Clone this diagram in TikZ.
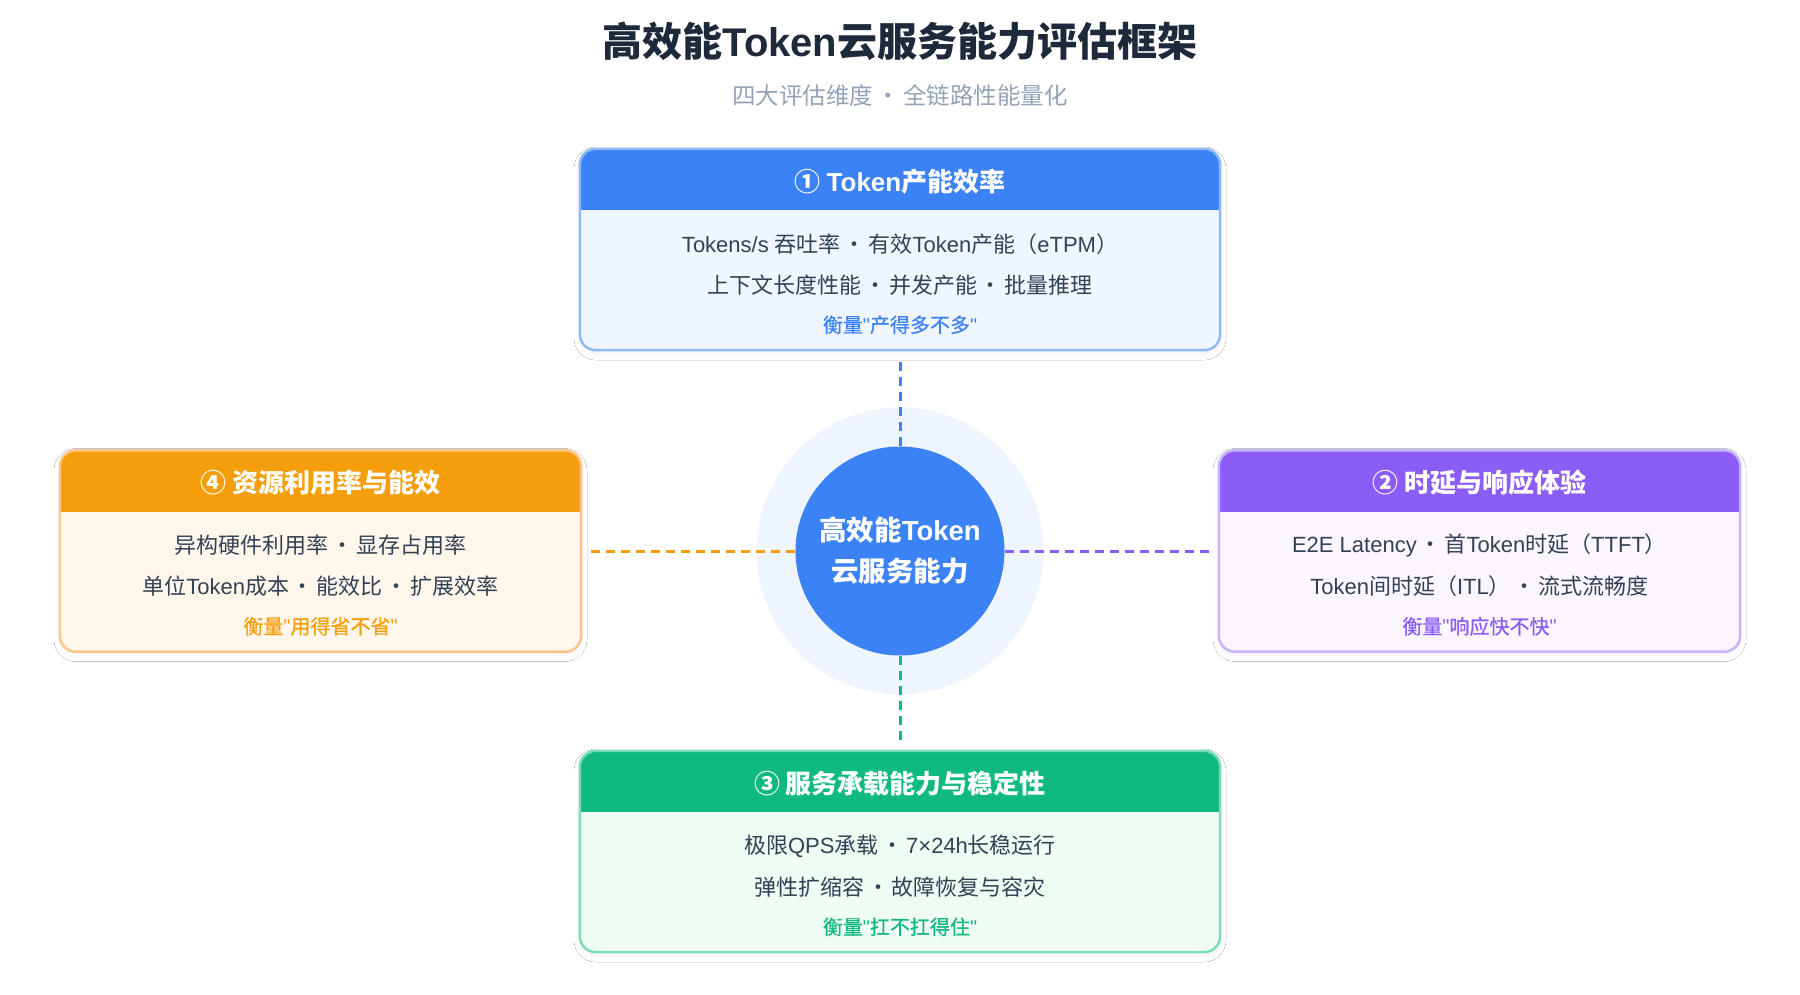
\documentclass[tikz,border=0pt]{standalone}
\usepackage{fontspec}
\setmainfont{Liberation Sans}[Ligatures=TeXOff]
\newfontfamily\latf{Liberation Sans}[Ligatures=TeXOff]
\newfontfamily\cjkf{Noto Sans CJK SC}[Ligatures=TeXOff]
\newfontfamily\cjkm{Noto Sans CJK SC}[Ligatures=TeXOff, FakeBold=0.6]
\def\curcjk{\cjkf}
\newcount\cc
\newXeTeXintercharclass\cjkcls
\def\setcls#1#2{\cc=#1 \loop\XeTeXcharclass\cc=\cjkcls\relax\advance\cc by 1 \ifnum\cc<#2 \repeat}
\setcls{"4E00}{"A000}
\setcls{"3000}{"3040}
\setcls{"FF00}{"FFF0}
\setcls{"2460}{"2474}
\XeTeXcharclass"00B7=\cjkcls
\XeTeXinterchartokenstate=1
\XeTeXinterchartoks 0 \cjkcls {\curcjk}
\XeTeXinterchartoks 4095 \cjkcls {\curcjk}
\XeTeXinterchartoks 255 \cjkcls {\curcjk}
\XeTeXinterchartoks \cjkcls 0 {\latf}
\XeTeXinterchartoks 4095 0 {\latf}
\XeTeXinterchartoks 255 0 {\latf}
\newcommand\sep{\hspace{0.13em}·\hspace{0.13em}}
\usetikzlibrary{shadows.blur}
\definecolor{cTitle}{HTML}{1E293B}
\definecolor{cSub}{HTML}{94A3B8}
\definecolor{cText}{HTML}{334155}
\definecolor{cHalo}{HTML}{EFF5FE}
\definecolor{bMain}{HTML}{3B82F6}
\definecolor{bBody}{HTML}{EFF6FF}
\definecolor{bLine}{HTML}{8DB8FA}
\definecolor{pMain}{HTML}{8B5CF6}
\definecolor{pBody}{HTML}{FAF5FF}
\definecolor{pLine}{HTML}{C4B5FD}
\definecolor{gMain}{HTML}{10B981}
\definecolor{gBody}{HTML}{EEFCF4}
\definecolor{gLine}{HTML}{7ADDB8}
\definecolor{oMain}{HTML}{F59E0B}
\definecolor{oBody}{HTML}{FFF6EC}
\definecolor{oLine}{HTML}{FCC58A}
\newcommand\cardhead[3]{%
  \begin{scope}
    \clip (#1.north west) rectangle ([yshift=-61pt]#1.north east);
    \fill[#2, rounded corners=16pt] (#1.north west) rectangle (#1.south east);
  \end{scope}
  \draw[#3, line width=2.5pt, rounded corners=16pt] (#1.north west) rectangle (#1.south east);}
\begin{document}
\begin{tikzpicture}[x=1pt,y=-1pt,
  card/.style={rounded corners=16pt, minimum height=201pt, inner sep=0pt,
    blur shadow={shadow xshift=0pt, shadow yshift=-4pt, shadow blur radius=6pt, shadow opacity=5}},
  htitle/.style={text=white, font=\fontsize{26}{30}\selectfont\bfseries, inner sep=0pt},
  bline/.style={text=cText, font=\fontsize{22}{26}\selectfont, inner sep=0pt},
  fline/.style={font=\def\curcjk{\cjkm}\fontsize{20}{24}\selectfont, inner sep=0pt},
  conn/.style={line width=3pt, dash pattern=on 9pt off 6pt, shorten >=8.5pt}]
\useasboundingbox[fill=white] (0,0) rectangle (1800,995);

\node[font=\fontsize{40}{48}\selectfont\bfseries, text=cTitle, inner sep=0pt] (title) at (900,41) {高效能Token云服务能力评估框架};
\node[font=\fontsize{23.5}{28}\selectfont, text=cSub, inner sep=0pt] (sub) at (900,95) {四大评估维度\sep 全链路性能量化};

% cards
\node[card, fill=bBody, minimum width=640pt] (top) at (900,249.5) {};
\cardhead{top}{bMain}{bLine}
\node[card, fill=pBody, minimum width=521pt] (right) at (1479.5,551) {};
\cardhead{right}{pMain}{pLine}
\node[card, fill=gBody, minimum width=640pt] (bot) at (900,851.5) {};
\cardhead{bot}{gMain}{gLine}
\node[card, fill=oBody, minimum width=521pt] (left) at (320.5,551) {};
\cardhead{left}{oMain}{oLine}

% top card texts
\node[htitle] (topH) at ([yshift=-32.5pt]top.north) {① Token产能效率};
\node[bline] (topA) at ([yshift=-95pt]top.north) {Tokens/s 吞吐率\sep 有效Token产能（eTPM）};
\node[bline] (topB) at ([yshift=-136pt]top.north) {上下文长度性能\sep 并发产能\sep 批量推理};
\node[fline, text=bMain] (topF) at ([yshift=-176pt]top.north) {衡量"产得多不多"};

% right card texts
\node[htitle] (rightH) at ([yshift=-32.5pt]right.north) {② 时延与响应体验};
\node[bline] (rightA) at ([yshift=-95pt]right.north) {E2E Latency\sep 首Token时延（TTFT）};
\node[bline] (rightB) at ([yshift=-136pt]right.north) {Token间时延（ITL）\sep 流式流畅度};
\node[fline, text=pMain] (rightF) at ([yshift=-176pt]right.north) {衡量"响应快不快"};

% bottom card texts
\node[htitle] (botH) at ([yshift=-32.5pt]bot.north) {③ 服务承载能力与稳定性};
\node[bline] (botA) at ([yshift=-95pt]bot.north) {极限QPS承载\sep 7×24h长稳运行};
\node[bline] (botB) at ([yshift=-136pt]bot.north) {弹性扩缩容\sep 故障恢复与容灾};
\node[fline, text=gMain] (botF) at ([yshift=-176pt]bot.north) {衡量"扛不扛得住"};

% left card texts
\node[htitle] (leftH) at ([yshift=-32.5pt]left.north) {④ 资源利用率与能效};
\node[bline] (leftA) at ([yshift=-95pt]left.north) {异构硬件利用率\sep 显存占用率};
\node[bline] (leftB) at ([yshift=-136pt]left.north) {单位Token成本\sep 能效比\sep 扩展效率};
\node[fline, text=oMain] (leftF) at ([yshift=-176pt]left.north) {衡量"用得省不省"};

% center
\node[circle, fill=cHalo, minimum size=287pt, inner sep=0pt] (halo) at (900,551) {};
\node[circle, fill=bMain, minimum size=209pt, inner sep=0pt, align=center, text=white,
      font=\fontsize{27.5}{41}\selectfont\bfseries] (ctr) at (900,551) {高效能Token\\云服务能力};

% connectors
\draw[conn, bMain] (ctr) -- (top);
\draw[conn, pMain] (ctr) -- (right);
\draw[conn, gMain] (ctr) -- (bot);
\draw[conn, oMain] (ctr) -- (left);
\end{tikzpicture}
\end{document}
